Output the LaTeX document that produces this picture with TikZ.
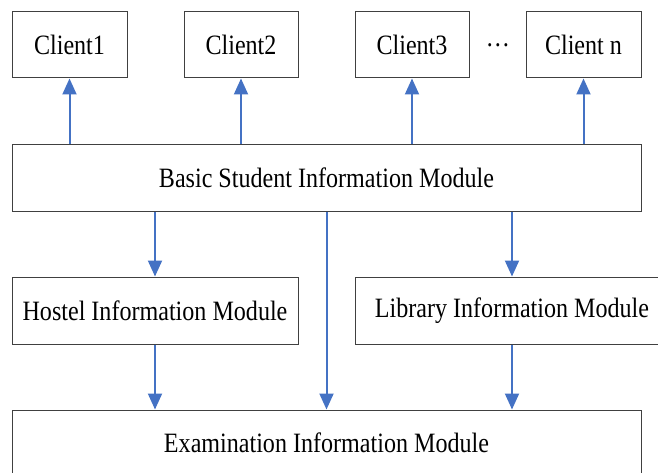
\documentclass[tikz,border=0pt]{standalone}
\usepackage{fontspec}
\setmainfont{Liberation Serif}[FakeStretch=0.86]
\usetikzlibrary{arrows.meta,positioning}
\definecolor{arrowblue}{RGB}{68,114,196}
\tikzset{
>={Triangle[width=14pt,length=16pt]},
  modbox/.style={
    rectangle,
    draw=black!75, line width=1pt,
    inner sep=0pt,
    minimum height=66pt,
    text centered,
    font=\fontsize{28}{32}\selectfont},
  line/.style={draw=arrowblue, line width=2pt, ->},
}

\begin{document}
\begin{tikzpicture}[x=1pt,y=1pt]
        \clip (0,0) rectangle (658,472);
        % clients
        \node[modbox, minimum width=115pt] (c1) at (69.5,427) {Client1};
        \node[modbox, minimum width=114pt] (c2) at (241,427) {Client2};
        \node[modbox, minimum width=114pt] (c3) at (412,427) {Client3};
        \node[modbox, minimum width=115pt] (cn) at (583.5,427) {Client n};
        \node[inner sep=0pt, font=\fontsize{28}{32}\selectfont] (dots) at (498,427) {…};
        % modules
        \node[modbox, minimum width=629pt] (basic) at (326.5,294) {Basic Student Information Module};
        \node[modbox, minimum width=286pt, minimum height=67pt] (hostel) at (155,161.5) {Hostel Information Module};
        \node[modbox, minimum width=314pt, minimum height=67pt] (library) at (512,161.5) {Library Information Module};
        \node[modbox, minimum width=629pt] (exam) at (326.5,29) {Examination Information Module};
        % arrows
        \draw[line] (c1.south |- basic.north) -- (c1.south);
        \draw[line] (c2.south |- basic.north) -- (c2.south);
        \draw[line] (c3.south |- basic.north) -- (c3.south);
        \draw[line] (cn.south |- basic.north) -- (cn.south);
        \draw[line] (basic.south -| hostel.north) -- (hostel.north);
        \draw[line] (basic.south) -- (basic.south |- exam.north);
        \draw[line] (basic.south -| library.north) -- (library.north);
        \draw[line] (hostel.south) -- (hostel.south |- exam.north);
        \draw[line] (library.south) -- (library.south |- exam.north);
      \end{tikzpicture}
\end{document}
